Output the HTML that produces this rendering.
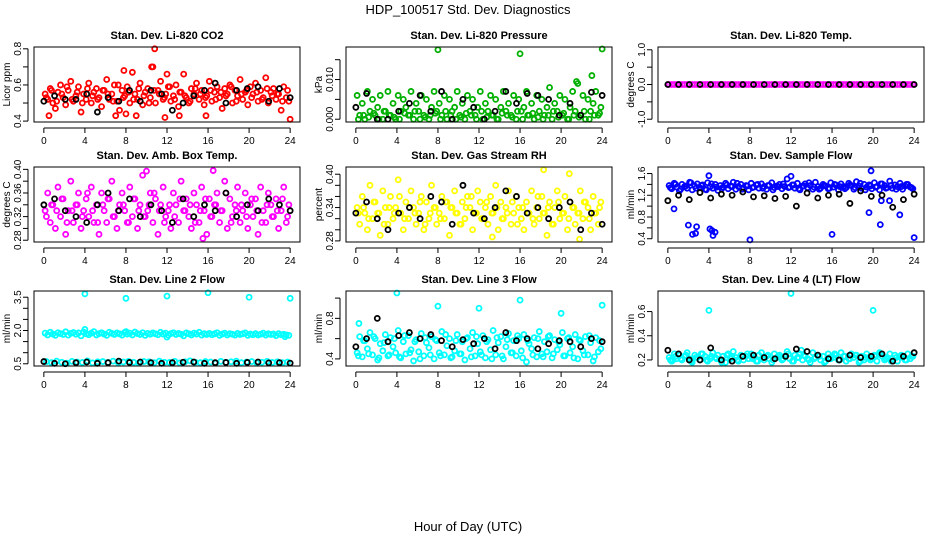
<!DOCTYPE html>
<html><head><meta charset="utf-8"><style>
html,body{margin:0;padding:0;background:#fff;}
svg{display:block;font-family:"Liberation Sans",Arial,sans-serif;}
</style></head><body>
<svg id="chart" width="936" height="540" viewBox="0 0 936 540">
<text x="468" y="14" font-size="13" text-anchor="middle">HDP_100517  Std. Dev. Diagnostics</text>
<text x="468" y="531" font-size="13" text-anchor="middle">Hour of Day (UTC)</text>
</svg>
<script>
const xTicks=[0,4,8,12,16,20,24];
const co2Vals=[.55,.52,.58,.50,.47,.56,.60,.53,.49,.57,.62,.51,.54,.59,.45,.55,.52,.61,.50,.56,.58,.53,.48,.57,.63,.52,.55,.60,.51,.46,.57,.54,.59,.50,.67,.55,.52,.61,.49,.56,.58,.53,.70,.50,.57,.62,.52,.55,.59,.51,.54,.60,.48,.56,.66,.53,.50,.58,.55,.61,.52,.57,.49,.54,.62,.51,.56,.59,.53,.47,.58,.55,.60,.50,.57,.54,.63,.52,.56,.49,.59,.55,.61,.51,.57,.53,.64,.50,.56,.58,.52,.55,.46,.59,.53,.51];
const co2Vals2=[.53,.57,.51,.55,.59,.52,.56,.50,.58,.54,.52,.57,.55,.51,.60,.53,.56,.52,.58,.54,.50,.57,.55,.53,.59,.52,.56,.54,.51,.58,.55,.53,.57,.52,.56,.54,.59,.51,.55,.57,.53,.56,.52,.58,.54,.55,.51,.57];
const co2Out=[[10.8,.80],[10.5,.70],[7.8,.68],[12,.66],[0.5,.43],[7,.43],[8,.44],[9,.43],[11.8,.42],[13.2,.43],[15.8,.43],[24,.41]];
const co2Blk=[.51,.54,.52,.52,.55,.45,.53,.51,.57,.51,.57,.55,.46,.50,.54,.57,.61,.50,.57,.58,.59,.51,.58,.53];
const presVals=[.006,.001,.004,.000,.007,.002,.005,.001,.003,.006,.000,.002,.007,.001,.004,.000,.006,.002,.005,.003,.001,.007,.000,.004,.002,.006,.001,.005,.000,.003,.007,.002,.004,.001,.006,.000,.005,.002,.003,.007,.001,.004,.000,.006,.002,.005,.001,.003,.007,.000,.004,.002,.006,.001,.005,.000,.003,.007,.002,.004,.001,.006,.000,.005,.002,.003,.007,.001,.004,.000,.006,.002,.005,.001,.003,.008,.000,.004,.002,.006,.001,.005,.000,.003,.007,.002,.009,.001,.006,.000,.005,.002,.004,.007,.001,.003];
const presVals2=[.000,.001,.0005,.0015,.000,.002,.001,.0005,.000,.0015,.001,.002,.000,.0005,.001,.0015,.000,.002,.001,.000,.0005,.0015,.001,.000,.002,.0005,.001,.000,.0015,.001,.0005,.002,.000,.001,.0015,.0005,.000,.001,.002,.0005,.0015,.000,.001,.0005,.002,.000,.001,.0015];
const presOut=[[8,.0175],[16,.0165],[24,.0177],[23,.011],[21.5,.0095]];
const presBlk=[.003,.0065,.000,.000,.002,.004,.006,.002,.007,.000,.005,.003,.000,.002,.007,.004,.0065,.006,.005,.001,.004,.001,.0068,.006];
const tempVals=[0,0,0,0,0,0,0,0,0,0,0,0,0,0,0,0,0,0,0,0,0,0,0,0,0,0,0,0,0,0,0,0,0,0,0,0,0,0,0,0,0,0,0,0,0,0,0,0,0,0,0,0,0,0,0,0,0,0,0,0,0,0,0,0,0,0,0,0,0,0,0,0,0,0,0,0,0,0,0,0,0,0,0,0,0,0,0,0,0,0,0,0,0,0,0,0];
const tempOut=[];
const tempBlk=[0,0,0,0,0,0,0,0,0,0,0,0,0,0,0,0,0,0,0,0,0,0,0,0];
const ambVals=[.33,.36,.31,.34,.30,.37,.32,.35,.29,.33,.38,.31,.34,.36,.30,.33,.35,.32,.37,.31,.34,.29,.36,.33,.31,.35,.38,.32,.30,.34,.36,.33,.31,.37,.32,.35,.30,.34,.39,.32,.33,.36,.31,.35,.29,.34,.37,.32,.33,.30,.36,.34,.31,.38,.33,.35,.32,.30,.36,.34,.31,.37,.33,.29,.35,.32,.34,.36,.31,.33,.38,.30,.35,.32,.34,.37,.31,.33,.36,.30,.34,.32,.35,.29,.37,.33,.31,.36,.34,.32,.35,.30,.33,.37,.31,.34];
const ambVals2=[.32,.34,.33,.35,.31,.33,.34,.32,.36,.33,.31,.34,.35,.32,.33,.34,.31,.35,.33,.32,.34,.36,.33,.31,.34,.32,.35,.33,.34,.31,.33,.35,.32,.34,.33,.36,.31,.33,.34,.32,.35,.33,.31,.34,.32,.33,.35,.32];
const ambOut=[[15.5,.283],[16.5,.398],[10,.397]];
const ambBlk=[.34,.35,.33,.32,.31,.34,.36,.33,.35,.32,.34,.33,.31,.35,.32,.34,.33,.36,.32,.34,.33,.35,.34,.33];
const rhVals=[.34,.31,.36,.33,.30,.38,.32,.35,.33,.29,.37,.34,.31,.36,.32,.34,.39,.33,.30,.35,.32,.37,.34,.31,.33,.36,.30,.35,.32,.38,.34,.31,.33,.36,.32,.35,.29,.34,.37,.33,.31,.35,.32,.36,.34,.30,.33,.37,.35,.32,.34,.31,.36,.33,.38,.30,.35,.32,.34,.37,.31,.33,.36,.34,.32,.30,.35,.33,.37,.31,.34,.32,.36,.33,.29,.35,.31,.34,.37,.32,.33,.36,.30,.35,.34,.31,.33,.37,.32,.35,.34,.30,.36,.33,.31,.35];
const rhVals2=[.33,.34,.32,.35,.33,.31,.34,.33,.36,.32,.34,.33,.35,.31,.33,.34,.32,.35,.34,.33,.31,.34,.36,.33,.32,.35,.33,.34,.32,.33,.35,.31,.34,.33,.32,.36,.33,.34,.31,.35,.33,.32,.34,.33,.35,.32,.33,.34];
const rhOut=[[18.3,.408],[21.8,.283],[13.3,.287],[20.8,.401]];
const rhBlk=[.33,.35,.32,.30,.33,.34,.32,.36,.35,.31,.38,.33,.32,.34,.37,.36,.33,.34,.32,.34,.35,.30,.33,.31];
const flowVals=[1.38,1.32,1.42,1.35,1.28,1.40,1.36,1.33,1.44,1.30,1.37,1.41,1.34,1.39,1.31,1.43,1.36,1.33,1.40,1.29,1.38,1.35,1.42,1.32,1.37,1.44,1.31,1.36,1.40,1.34,1.38,1.30,1.42,1.35,1.39,1.33,1.41,1.36,1.31,1.38,1.43,1.34,1.37,1.40,1.32,1.36,1.50,1.35,1.39,1.33,1.42,1.30,1.37,1.41,1.34,1.38,1.31,1.44,1.36,1.33,1.40,1.37,1.32,1.43,1.35,1.39,1.30,1.41,1.36,1.34,1.42,1.38,1.31,1.45,1.37,1.33,1.40,1.35,1.39,1.32,1.43,1.36,1.30,1.41,1.38,1.34,1.46,1.33,1.39,1.36,1.42,1.31,1.37,1.40,1.35,1.32];
const flowVals2=[1.34,1.40,1.31,1.37,1.43,1.33,1.38,1.30,1.41,1.35,1.32,1.39,1.36,1.42,1.31,1.37,1.34,1.40,1.33,1.38,1.30,1.36,1.41,1.34,1.39,1.32,1.37,1.43,1.35,1.31,1.38,1.33,1.40,1.36,1.32,1.39,1.34,1.42,1.30,1.37,1.35,1.41,1.33,1.38,1.31,1.36,1.40,1.34];
const flowOut=[[2,.65],[2.4,.48],[2.7,.5],[2.8,.62],[4.1,.58],[4.3,.55],[4.4,.46],[4.6,.52],[8,.38],[16,.48],[24,.42],[19.6,.88],[20.7,.66],[22.6,.84],[0.6,.95],[19.8,1.65],[12,1.55],[4,1.56],[21.6,1.1],[20.8,1.1]];
const flowBlk=[1.1,1.2,1.12,1.25,1.15,1.22,1.2,1.26,1.17,1.19,1.14,1.18,1.0,1.24,1.15,1.2,1.22,1.05,1.28,1.18,1.2,0.98,1.12,1.22];
const l2Vals=[1.88,1.80,1.92,1.84,1.78,1.90,1.86,1.82,1.94,1.79,1.87,1.91,1.83,1.89,1.76,1.93,1.85,1.81,1.88,1.95,1.80,1.86,1.90,1.84,1.78,1.92,1.87,1.82,1.89,1.85,1.79,1.91,1.84,1.88,1.80,1.93,1.86,1.82,1.90,1.78,1.87,1.83,1.89,1.85,1.81,1.92,1.84,1.88,1.79,1.86,1.90,1.82,1.87,1.83,1.76,1.89,1.85,1.80,1.88,1.84,1.92,1.79,1.86,1.82,1.87,1.81,1.85,1.90,1.78,1.84,1.88,1.80,1.86,1.83,1.79,1.87,1.82,1.85,1.89,1.78,1.84,1.81,1.86,1.80,1.83,1.88,1.79,1.85,1.82,1.84,1.77,1.86,1.81,1.83,1.80,1.78];
const l2Low=[.60,.55,.62,.57,.53,.61,.58,.56,.63,.54,.59,.60,.56,.62,.55,.58,.61,.57,.53,.60,.59,.55,.62,.57,.56,.61,.54,.59,.63,.57,.55,.60,.58,.53,.61,.56,.59,.62,.55,.58,.60,.54,.57,.61,.56,.59,.55,.58];
const l2Out=[[4,3.65],[8,3.45],[12,3.55],[16,3.7],[20,3.5],[24,3.45],[4,2.05],[8,1.95],[12,1.7],[23.5,1.72]];
const l2Blk=[.60,.52,.5,.55,.58,.52,.55,.62,.56,.58,.55,.52,.55,.57,.58,.52,.55,.56,.52,.56,.58,.54,.55,.53];
const l3Vals=[.46,.62,.42,.58,.50,.66,.44,.60,.39,.55,.48,.64,.43,.61,.52,.46,.68,.41,.57,.45,.63,.49,.38,.59,.47,.65,.43,.56,.51,.62,.40,.58,.46,.67,.44,.53,.60,.42,.48,.64,.45,.57,.39,.61,.50,.66,.43,.55,.47,.63,.41,.59,.49,.68,.44,.56,.62,.40,.52,.65,.46,.58,.43,.60,.48,.64,.37,.55,.50,.61,.42,.67,.45,.57,.47,.63,.41,.59,.49,.54,.66,.43,.60,.46,.52,.64,.40,.58,.48,.62,.44,.56,.38,.61,.47,.50];
const l3Vals2=[.43,.58,.45,.62,.41,.56,.44,.60,.42,.63,.46,.57,.40,.61,.44,.59,.43,.64,.41,.58,.45,.60,.42,.62,.44,.57,.40,.61,.43,.59,.46,.63,.41,.58,.44,.60,.42,.62,.45,.57,.43,.61,.41,.59,.44,.63,.42,.58];
const l3Out=[[0.3,.75],[4,1.05],[8,.92],[12,.90],[16,.98],[20,.85],[24,.93]];
const l3Blk=[.52,.6,.8,.57,.63,.66,.60,.64,.58,.52,.59,.55,.6,.5,.66,.58,.60,.50,.55,.58,.57,.52,.60,.57];
const l4Vals=[.22,.19,.25,.21,.24,.20,.23,.26,.21,.18,.24,.22,.20,.25,.23,.19,.21,.26,.22,.24,.20,.23,.18,.25,.21,.27,.22,.19,.24,.20,.23,.21,.25,.22,.19,.24,.26,.20,.23,.21,.18,.25,.22,.24,.20,.23,.27,.21,.19,.24,.22,.25,.20,.23,.21,.18,.26,.22,.24,.20,.23,.19,.25,.21,.22,.24,.20,.26,.23,.19,.21,.25,.22,.24,.18,.23,.20,.25,.22,.21,.24,.19,.26,.23,.20,.22,.25,.21,.24,.19,.23,.22,.20,.25,.21,.23];
const l4Vals2=[.20,.23,.21,.24,.19,.22,.25,.20,.23,.21,.18,.24,.22,.20,.23,.25,.21,.19,.22,.24,.20,.23,.21,.25,.19,.22,.24,.20,.21,.23,.18,.22,.25,.20,.23,.21,.24,.19,.22,.20,.23,.25,.21,.19,.22,.24,.20,.23];
const l4Out=[[4,.61],[12,.75],[20,.61],[13,.28],[0.5,.2]];
const l4Blk=[.28,.25,.20,.20,.30,.20,.19,.23,.24,.22,.21,.23,.29,.27,.24,.21,.20,.24,.22,.23,.25,.19,.23,.26];

const panels=[
 {name:'co2',title:'Stan. Dev. Li-820 CO2',yl:'Licor ppm',c:'#ff0000',ymin:.395,ymax:.81,ticks:[.4,.5,.6,.7,.8],labels:['0.4','','0.6','','0.8'],vals:[co2Vals,co2Vals2],out:co2Out,blk:co2Blk},
 {name:'pressure',title:'Stan. Dev. Li-820 Pressure',yl:'kPa',c:'#00b000',ymin:-.0007,ymax:.0182,ticks:[0,.005,.01,.015],labels:['0.000','','0.010',''],vals:[presVals,presVals2],out:presOut,blk:presBlk},
 {name:'temp',title:'Stan. Dev. Li-820 Temp.',yl:'degrees C',c:'#ff00ff',ymin:-1.08,ymax:1.08,ticks:[-1,-.5,0,.5,1],labels:['-1.0','','0.0','','1.0'],vals:[tempVals],out:tempOut,blk:tempBlk},
 {name:'amb-box',title:'Stan. Dev. Amb. Box Temp.',yl:'degrees C',c:'#ff00ff',ymin:.277,ymax:.404,ticks:[.28,.3,.32,.34,.36,.38,.4],labels:['0.28','','0.32','','0.36','','0.40'],vals:[ambVals,ambVals2],out:ambOut,blk:ambBlk},
 {name:'rh',title:'Stan. Dev. Gas Stream RH',yl:'percent',c:'#ffff00',ymin:.278,ymax:.413,ticks:[.28,.3,.32,.34,.36,.38,.4],labels:['0.28','','','0.34','','','0.40'],vals:[rhVals,rhVals2],out:rhOut,blk:rhBlk},
 {name:'sample-flow',title:'Stan. Dev. Sample Flow',yl:'ml/min',c:'#0000ff',ymin:.34,ymax:1.72,ticks:[.4,.6,.8,1,1.2,1.4,1.6],labels:['0.4','','0.8','','1.2','','1.6'],vals:[flowVals,flowVals2],out:flowOut,blk:flowBlk},
 {name:'line2',title:'Stan. Dev. Line 2 Flow',yl:'ml/min',c:'#00ffff',ymin:.4,ymax:3.78,ticks:[.5,1,1.5,2,2.5,3,3.5],labels:['0.5','','','2.0','','','3.5'],vals:[l2Vals,l2Low],out:l2Out,blk:l2Blk},
 {name:'line3',title:'Stan. Dev. Line 3 Flow',yl:'ml/min',c:'#00ffff',ymin:.33,ymax:1.07,ticks:[.4,.6,.8,1],labels:['0.4','','0.8',''],vals:[l3Vals,l3Vals2],out:l3Out,blk:l3Blk},
 {name:'line4',title:'Stan. Dev. Line 4 (LT) Flow',yl:'ml/min',c:'#00ffff',ymin:.15,ymax:.77,ticks:[.2,.4,.6],labels:['0.2','0.4','0.6'],vals:[l4Vals,l4Vals2],out:l4Out,blk:l4Blk}
];
const svg=document.getElementById('chart');
const NS='http://www.w3.org/2000/svg';
const colL=[34,346,658], rowT=[47,167,291], W=266, H=75;
function mk(tag,attrs,parent){const e=document.createElementNS(NS,tag);for(const k in attrs)e.setAttribute(k,attrs[k]);parent.appendChild(e);return e;}
panels.forEach((p,i)=>{
 const L=colL[i%3], T=rowT[Math.floor(i/3)], B=T+H;
 const g=mk('g',{},svg);
 
 
 const xs=h=>L+(h+0.96)*W/25.92;
 const ys=v=>B-(v-p.ymin)/(p.ymax-p.ymin)*H;
 const t=mk('text',{x:L+W/2,y:T-8,'font-size':11,'font-weight':'bold','text-anchor':'middle'},g);t.textContent=p.title;
 
 
 const yl=mk('text',{x:0,y:0,'font-size':10,'text-anchor':'middle',transform:`translate(${L-24},${T+H/2}) rotate(-90)`},g);yl.textContent=p.yl;
 
 
 mk('line',{x1:xs(0),x2:xs(24),y1:B+6,y2:B+6,stroke:'#000','stroke-width':1},g);
 xTicks.forEach(h=>{
  mk('line',{x1:xs(h),x2:xs(h),y1:B+6,y2:B+11,stroke:'#000','stroke-width':1},g);
  const tx=mk('text',{x:xs(h),y:B+22,'font-size':10,'text-anchor':'middle'},g);tx.textContent=h;
  
  
 });
 const y0=ys(p.ticks[0]), y1=ys(p.ticks[p.ticks.length-1]);
 mk('line',{x1:L-6,x2:L-6,y1:y0,y2:y1,stroke:'#000','stroke-width':1},g);
 p.ticks.forEach((v,j)=>{
  mk('line',{x1:L-11,x2:L-6,y1:ys(v),y2:ys(v),stroke:'#000','stroke-width':1},g);
  if(p.labels[j]){const ty=mk('text',{x:0,y:0,'font-size':10,'text-anchor':'middle',transform:`translate(${L-13},${ys(v)}) rotate(-90)`},g);ty.textContent=p.labels[j];
  
  }
 });
 const pts=mk('g',{fill:'none','stroke-width':1.8},g);
 p.vals.forEach(arr=>{arr.forEach((v,k)=>{
  const c=mk('circle',{cx:xs((k+0.5)*24/arr.length),cy:ys(v),r:2.5,stroke:p.c},pts);
  
  
 });});
 p.out.forEach(o=>{
  const c=mk('circle',{cx:xs(o[0]),cy:ys(o[1]),r:2.5,stroke:p.c},pts);
  
  
 });
 p.blk.forEach((v,k)=>{
  const c=mk('circle',{cx:xs(k*24/(p.blk.length-1)),cy:ys(v),r:2.5,stroke:'#000'},pts);
  
  
 });
 const box=mk('rect',{x:L,y:T,width:W,height:H,fill:'none',stroke:'#000','stroke-width':1},g);
 
 
});
</script>
</body></html>
